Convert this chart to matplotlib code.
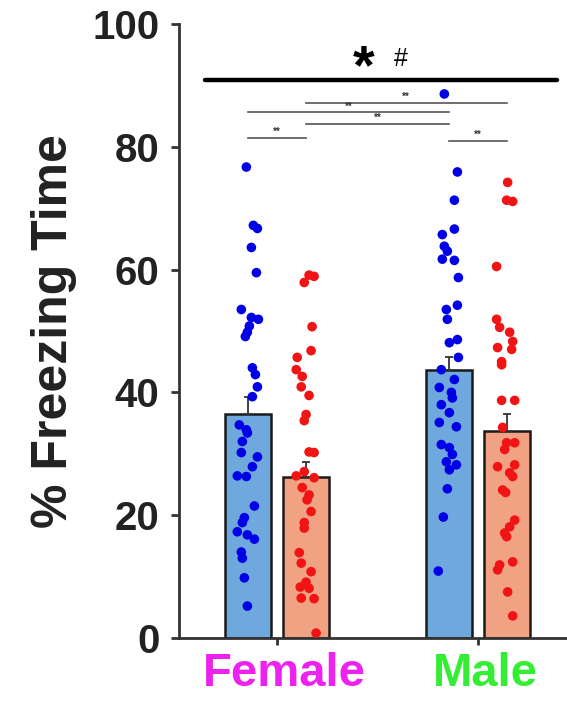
import matplotlib
matplotlib.use("Agg")
import matplotlib.pyplot as plt
import numpy as np

plt.rcParams['font.family'] = ['Liberation Sans', 'DejaVu Sans']

# ---------------- data ----------------
groups = ["Female", "Male"]
group_colors = ["#ee22ee", "#33ee33"]
conditions = ["blue", "red"]

bar_means = {"Female": [36.5, 26.2], "Male": [43.7, 33.7]}
bar_sems = {"Female": [2.8, 2.5], "Male": [2.1, 2.8]}

female_blue = [76.7, 67.2, 66.7, 63.6, 59.5, 53.5, 52.2, 51.9, 50.8, 49.8, 49.1, 44.0, 42.9,
               40.9, 39.3, 34.7, 33.9, 33.4, 32.0, 30.2, 29.5, 27.9, 26.4, 26.3, 21.5, 19.6,
               18.8, 17.3, 16.8, 16.1, 14.0, 13.0, 9.8, 5.2]
female_blue_jit = [-0.01, 0.025, 0.045, 0.015, 0.04, -0.035, 0.015, 0.05, 0.005, -0.005, -0.015,
                   0.02, 0.035, 0.045, 0.02, -0.045, -0.01, -0.005, -0.03, -0.035, 0.045, 0.02,
                   -0.055, -0.01, 0.03, -0.02, -0.03, -0.055, -0.005, 0.03, -0.035, -0.03, -0.02,
                   -0.005]

female_red = [59.1, 58.9, 57.9, 50.7, 46.8, 45.7, 43.7, 42.6, 40.9, 39.5, 36.4, 35.4, 30.3, 30.2,
              27.1, 26.4, 26.1, 24.5, 23.3, 22.5, 20.6, 18.8, 17.9, 13.9, 12.2, 10.8, 9.1, 8.3,
              8.1, 6.5, 6.4, 0.8]
female_red_jit = [0.017, 0.042, -0.007, 0.032, 0.027, -0.042, -0.047, -0.017, -0.022, 0.017,
                  0.002, -0.007, 0.017, 0.042, -0.007, -0.047, 0.042, -0.017, 0.017, 0.007,
                  0.027, -0.007, -0.007, -0.032, -0.022, 0.027, 0.002, -0.027, 0.017, -0.022,
                  0.042, 0.052]

male_blue = [88.6, 75.9, 71.3, 66.6, 65.7, 63.8, 63.0, 61.7, 61.5, 58.7, 54.2, 53.5, 51.9, 48.6,
             48.1, 45.7, 43.7, 42.1, 40.8, 40.0, 39.1, 38.0, 36.7, 35.1, 34.4, 31.5, 31.0, 29.9,
             28.7, 28.2, 27.4, 24.3, 19.7, 10.9]
male_blue_jit = [-0.025, 0.04, 0.025, 0.025, -0.035, -0.025, -0.01, -0.035, 0.025, 0.045, 0.04,
                 -0.015, -0.01, 0.04, 0.0, 0.045, -0.04, 0.025, -0.05, 0.01, 0.015, -0.04, 0.0,
                 -0.05, 0.035, -0.04, 0.0, 0.015, -0.015, 0.035, 0.0, -0.01, -0.03, -0.055]

male_red = [74.2, 71.3, 71.1, 60.5, 51.9, 50.6, 49.8, 48.3, 47.3, 47.0, 45.0, 44.5, 38.7, 38.7,
            34.3, 31.8, 31.8, 30.7, 27.9, 28.2, 26.3, 26.9, 24.1, 23.7, 19.2, 18.1, 17.1, 16.5,
            11.9, 12.4, 11.1, 7.5, 3.6]
male_red_jit = [0.005, 0.0, 0.03, -0.05, -0.05, -0.035, 0.015, 0.03, -0.045, 0.025, -0.025,
                -0.025, -0.025, 0.04, -0.02, 0.0, 0.04, -0.01, -0.045, 0.04, 0.03, 0.015, -0.02,
                -0.005, 0.04, 0.015, -0.01, 0.0, -0.035, 0.03, -0.045, 0.005, 0.03]

points = {("Female", 0): (female_blue, female_blue_jit),
          ("Female", 1): (female_red, female_red_jit),
          ("Male", 0): (male_blue, male_blue_jit),
          ("Male", 1): (male_red, male_red_jit)}

# pairwise comparisons: ((group, cond), (group, cond), height, label)
comparisons = [(("Female", 1), ("Male", 1), 87.1, "**"),
               (("Female", 0), ("Male", 0), 85.6, "**"),
               (("Female", 1), ("Male", 0), 83.7, "**"),
               (("Female", 0), ("Female", 1), 81.4, "**"),
               (("Male", 0), ("Male", 1), 80.9, "**")]
overall_y = 90.9
yticks = [0, 20, 40, 60, 80, 100]

# ---------------- style ----------------
bar_fill = ["#6fa8dc", "#f1a283"]
dot_color = ["#0000e6", "#f01414"]
offset = 0.1425
width = 0.23

fig = plt.figure(figsize=(5.67, 7.07), dpi=100)
ax = fig.add_axes([0.3157, 0.0976, 0.6843, 0.8685])

gx = {g: i for i, g in enumerate(groups)}

def xpos(key):
    g, c = key
    return gx[g] + (-offset if c == 0 else offset)

for g in groups:
    for c in range(2):
        x = xpos((g, c))
        ax.bar(x, bar_means[g][c], width=width, color=bar_fill[c], edgecolor="#1a1a1a",
               linewidth=1.8, zorder=1)
        ax.errorbar(x, bar_means[g][c], yerr=[[0], [bar_sems[g][c]]], color="#333333",
                    elinewidth=1.3, capsize=3, capthick=1.3, zorder=2, fmt='none')
        vals, jit = points[(g, c)]
        ax.scatter(x + np.array(jit), vals, s=48, color=dot_color[c], edgecolors='none',
                   zorder=3, clip_on=False)

for a, b, y, lab in comparisons:
    x1, x2 = xpos(a), xpos(b)
    ax.plot([x1, x2], [y, y], color="#555555", lw=1.2, zorder=4, clip_on=False)
    ax.text((x1 + x2) / 2, y + 0.15, lab, ha='center', va='bottom', fontsize=7,
            fontweight='bold', color="#333333", zorder=5)

ax.plot([-0.358, 1.393], [overall_y, overall_y], color="black", lw=3.2, clip_on=False,
        solid_capstyle='round', zorder=4)
ax.text(0.43, 90.3, "*", ha='center', va='baseline', fontsize=40,
        fontweight='bold', color='black')
ax.text(0.617, overall_y + 1.5, "#", ha='center', va='bottom', fontsize=18, color='black')

ax.set_xlim(-0.4876, 1.4428)
ax.set_ylim(0, 100)
ax.set_yticks(yticks)
ax.set_yticklabels([str(t) for t in yticks], fontsize=29, fontweight='bold', color="#222222")
ax.set_xticks(range(len(groups)))
ax.set_xticklabels([])
for g, col in zip(groups, group_colors):
    ax.annotate(g, xy=(gx[g], 0), xycoords=('data', 'axes fraction'),
                xytext=(5, -10), textcoords='offset points', ha='center', va='top',
                fontsize=34, fontweight='bold', color=col, annotation_clip=False)

ax.set_ylabel("% Freezing Time", fontsize=36, fontweight='bold', color="#222222", labelpad=11)

for s in ["top", "right"]:
    ax.spines[s].set_visible(False)
for s in ["left", "bottom"]:
    ax.spines[s].set_linewidth(2.0)
    ax.spines[s].set_color("#333333")
ax.tick_params(axis='y', length=6, width=2, color="#333333", pad=8)
ax.tick_params(axis='x', length=5, width=2, color="#333333", pad=6)

fig.savefig("out.png", dpi=100)
